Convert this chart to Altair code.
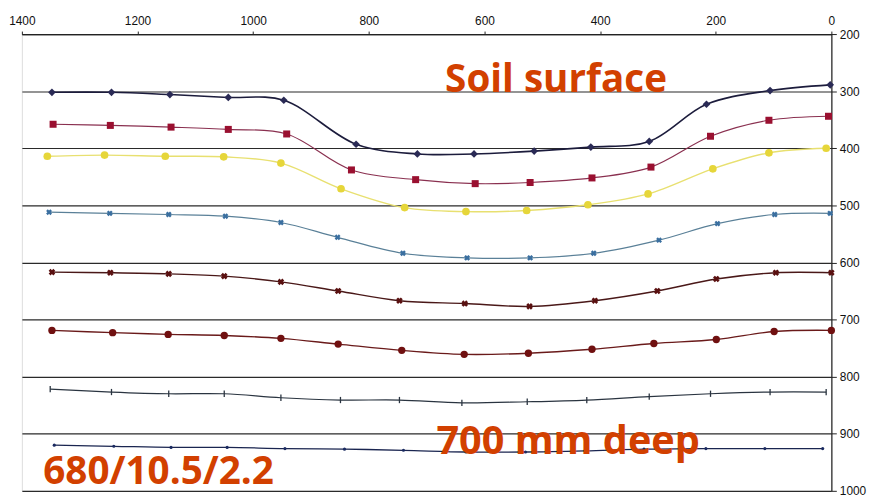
import altair as alt
import pandas as pd

# ---- data ----
s1_x = [1348, 1245, 1144, 1043, 947, 822, 716, 618, 514, 416, 315, 216, 106, 2]
s1_y = [302, 302, 306, 311, 316, 393, 410, 410, 405, 398, 388, 323, 299, 289]

s2_x = [1346, 1247, 1142, 1043, 942, 830, 719, 616, 521, 414, 312, 209, 108, 5]
s2_y = [358, 360, 363, 367, 375, 438, 455, 462, 460, 452, 433, 379, 351, 344]

s3_x = [1356, 1257, 1152, 1051, 952, 848, 738, 632, 527, 421, 317, 205, 108, 9]
s3_y = [414, 412, 414, 415, 426, 471, 504, 511, 509, 499, 480, 436, 408, 400]

s4_x = [1353, 1248, 1146, 1048, 952, 854, 741, 630, 521, 411, 298, 197, 98, 2]
s4_y = [512, 514, 516, 519, 530, 556, 584, 592, 592, 584, 561, 532, 516, 514]

s5_x = [1348, 1247, 1146, 1050, 952, 853, 747, 634, 522, 409, 301, 199, 96, 0]
s5_y = [617, 618, 620, 624, 634, 650, 667, 672, 677, 667, 650, 629, 618, 618]

s6_x = [1348, 1243, 1147, 1050, 952, 853, 743, 635, 524, 414, 307, 199, 99, 0]
s6_y = [719, 723, 726, 728, 733, 743, 754, 761, 759, 752, 742, 735, 721, 719]

s7_x = [1351, 1245, 1146, 1050, 952, 849, 747, 639, 526, 423, 315, 209, 106, 9]
s7_y = [822, 827, 830, 830, 837, 841, 841, 846, 844, 841, 835, 830, 827, 827]

s8_x = [1344, 1241, 1142, 1045, 945, 842, 740, 632, 529, 426, 324, 217, 115, 15]
s8_y = [920, 922, 924, 924, 926, 927, 929, 932, 932, 930, 927, 926, 926, 926]

x_ticks = [0, 200, 400, 600, 800, 1000, 1200, 1400]
y_ticks = [200, 300, 400, 500, 600, 700, 800, 900, 1000]

ann_text = ["Soil surface", "700 mm deep", "680/10.5/2.2"]
ann_x = [668, 683, 1363]
ann_y = [301, 936, 988]
ann_size = [39, 40, 39]

# ---- styles ----
series = [
    (s1_x, s1_y, "#1c1c3c", "#2a2a55", "diamond", True, 60, 0, 1.6),
    (s2_x, s2_y, "#8a3050", "#9a1030", "square", True, 50, 0, 1.2),
    (s3_x, s3_y, "#e8e070", "#e6d63a", "circle", True, 60, 0, 1.4),
    (s4_x, s4_y, "#5a8098", "#3a6fa0", "cross", True, 36, 45, 1.2),
    (s5_x, s5_y, "#4a1818", "#5a1010", "cross", True, 45, 45, 1.4),
    (s6_x, s6_y, "#6a1a1a", "#701010", "circle", True, 55, 0, 1.4),
    (s7_x, s7_y, "#2a3440", "#2a3440", "M0,-1V1", False, 40, 0, 1.2),
    (s8_x, s8_y, "#1a2550", "#1a2a60", "circle", True, 10, 0, 1.3),
]

axis_style = dict(labelFont="Liberation Sans", labelFontSize=12, labelColor="#111111",
                  domainColor="#222222", domainWidth=1.2, tickColor="#222222", tickWidth=1,
                  gridColor="#2a2a2a", gridWidth=1.2, gridOpacity=1, format="d", title=None)

xs = alt.X("x:Q", scale=alt.Scale(domain=[0, 1400], reverse=True, nice=False, zero=False),
           axis=alt.Axis(orient="top", values=x_ticks, grid=False,
                         tickSize=3, labelPadding=4, labelFlush=False, **axis_style))
ys = alt.Y("y:Q", scale=alt.Scale(domain=[200, 1000], reverse=True, nice=False, zero=False),
           axis=alt.Axis(orient="right", values=y_ticks, grid=True,
                         tickSize=5, labelPadding=3, labelFlush=False, **axis_style))

layers = []
for (sx, sy, lc, mc, shape, filled, size, angle, lw) in series:
    df = pd.DataFrame({"x": sx, "y": sy})
    base = alt.Chart(df)
    layers.append(base.mark_line(color=lc, strokeWidth=lw, interpolate="catmull-rom").encode(x=xs, y=ys))
    pkw = dict(shape=shape, color=mc, size=size, opacity=1, filled=filled)
    if angle:
        pkw["angle"] = angle
    if not filled:
        pkw["strokeWidth"] = 1.3
    layers.append(base.mark_point(**pkw).encode(x=xs, y=ys))

for t, ax, ay, fs in zip(ann_text, ann_x, ann_y, ann_size):
    ann = pd.DataFrame({"x": [ax], "y": [ay], "t": [t]})
    layers.append(
        alt.Chart(ann).mark_text(font="Open Sans", fontWeight="bold", fontSize=fs,
                                 color="#d24000", align="left", baseline="alphabetic")
        .encode(x=xs, y=ys, text="t:N")
    )

chart = alt.layer(*layers).properties(
    width=817, height=461,
    autosize=alt.AutoSizeParams(type="none"),
    padding={"left": 14, "top": 24, "right": 40, "bottom": 10},
).configure_view(
    stroke="#222222", strokeWidth=1.2
).configure(background="white")

chart.save("out.html", embed_options={"renderer": "svg", "actions": False})
